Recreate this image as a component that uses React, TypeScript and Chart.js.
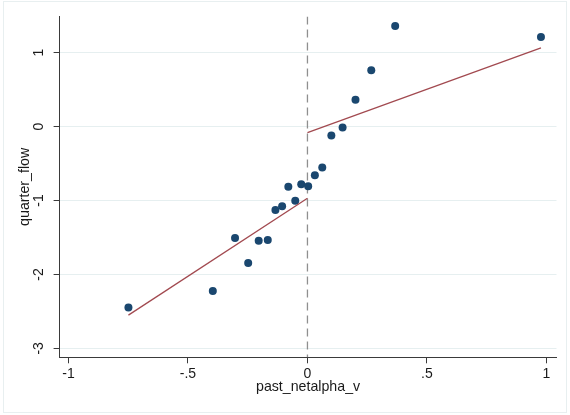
import React, { useEffect, useRef } from "react";
import { Chart, registerables } from "chart.js";

Chart.register(...registerables);

// Scatter data: past_netalpha_v vs quarter_flow
const pastNetalpha = [
  -0.749, -0.396, -0.303, -0.248, -0.204, -0.166, -0.134, -0.106, -0.08, -0.051,
  -0.026, 0.003, 0.031, 0.062, 0.1, 0.147, 0.201, 0.267, 0.367, 0.977,
];
const quarterFlow = [
  -2.447, -2.224, -1.509, -1.846, -1.545, -1.536, -1.127, -1.078, -0.813, -1.005,
  -0.779, -0.809, -0.66, -0.554, -0.121, -0.013, 0.364, 0.76, 1.361, 1.213,
];

// Linear fits on each side of zero
const leftFitX = [-0.749, 0];
const leftFitY = [-2.551, -0.97];
const rightFitX = [0, 0.977];
const rightFitY = [-0.081, 1.065];

// Vertical reference line at x = 0
const refLineX = 0;

// Axis ticks
const xTicks = [-1, -0.5, 0, 0.5, 1];
const xTickLabels = ["-1", "-.5", "0", ".5", "1"];
const yTicks = [-3, -2, -1, 0, 1];
const yTickLabels = ["-3", "-2", "-1", "0", "1"];

const X_MIN = -1.037;
const X_MAX = 1.042;
const Y_MIN = -3.121;
const Y_MAX = 1.49;

const FONT = "'Liberation Sans', Arial, Helvetica, sans-serif";

export default function App() {
  const ref = useRef<HTMLCanvasElement | null>(null);

  useEffect(() => {
    if (!ref.current) return;
    const pts = pastNetalpha.map((x, i) => ({ x, y: quarterFlow[i] }));
    const lf = leftFitX.map((x, i) => ({ x, y: leftFitY[i] }));
    const rf = rightFitX.map((x, i) => ({ x, y: rightFitY[i] }));
    const vline = [
      { x: refLineX, y: Y_MAX },
      { x: refLineX, y: Y_MIN },
    ];

    const bgPlugin = {
      id: "bg",
      beforeDraw(chart: any) {
        const c = chart.ctx;
        c.save();
        c.fillStyle = "#ffffff";
        c.fillRect(0, 0, chart.width, chart.height);
        c.strokeStyle = "#e8eff0";
        c.lineWidth = 1;
        c.strokeRect(3.5, 1.5, 563, 411);
        c.restore();
      },
    };

    const chart = new Chart(ref.current, {
      type: "scatter",
      data: {
        datasets: [
          {
            label: "left fit",
            data: lf,
            showLine: true,
            borderColor: "#a24a50",
            borderWidth: 1.3,
            pointRadius: 0,
            order: 1,
          } as any,
          {
            label: "right fit",
            data: rf,
            showLine: true,
            borderColor: "#a24a50",
            borderWidth: 1.3,
            pointRadius: 0,
            order: 1,
          } as any,
          {
            label: "quarter_flow",
            data: pts,
            backgroundColor: "#1a476f",
            borderColor: "#1a476f",
            borderWidth: 0,
            pointRadius: 4,
            order: 2,
          } as any,
          {
            label: "xline",
            data: vline,
            showLine: true,
            borderColor: "#8f8f8f",
            borderWidth: 1.3,
            borderDash: [8, 5],
            pointRadius: 0,
            order: 3,
          } as any,
        ],
      },
      options: {
        animation: false,
        responsive: false,
        events: [],
        layout: { padding: { left: 0, top: 15, right: 13.5, bottom: 0 } },
        plugins: {
          legend: { display: false },
          tooltip: { enabled: false },
        },
        scales: {
          x: {
            type: "linear",
            min: X_MIN,
            max: X_MAX,
            afterBuildTicks: (s: any) => {
              s.ticks = xTicks.map((v) => ({ value: v }));
            },
            afterFit: (s: any) => {
              s.height = 57.7;
            },
            ticks: {
              callback: (v: any) => {
                const i = xTicks.indexOf(Number(v));
                return i >= 0 ? xTickLabels[i] : "";
              },
              font: { family: FONT, size: 14 },
              color: "#1a1a1a",
              padding: 2,
              maxRotation: 0,
              minRotation: 0,
            },
            grid: {
              drawOnChartArea: false,
              drawTicks: true,
              tickLength: 6,
              tickColor: "#3a3a3a",
              tickWidth: 1,
            },
            border: { display: true, color: "#3a3a3a", width: 1 },
            title: {
              display: true,
              text: "past_netalpha_v",
              font: { family: FONT, size: 14.2 },
              color: "#1a1a1a",
              padding: { top: 0, bottom: 19.5 },
            },
          },
          y: {
            type: "linear",
            min: Y_MIN,
            max: Y_MAX,
            afterBuildTicks: (s: any) => {
              s.ticks = yTicks.map((v) => ({ value: v }));
            },
            afterFit: (s: any) => {
              s.width = 59.6;
            },
            ticks: {
              callback: (v: any) => {
                const i = yTicks.indexOf(Number(v));
                return i >= 0 ? yTickLabels[i] : "";
              },
              font: { family: FONT, size: 14 },
              color: "#1a1a1a",
              padding: 8,
              minRotation: 90,
              maxRotation: 90,
              crossAlign: "center",
            },
            grid: {
              drawOnChartArea: true,
              color: "#e6eff0",
              lineWidth: 1,
              drawTicks: true,
              tickLength: 6,
              tickColor: "#3a3a3a",
              tickWidth: 1,
            },
            border: { display: true, color: "#3a3a3a", width: 1 },
            title: {
              display: true,
              text: "quarter_flow",
              font: { family: FONT, size: 14.2 },
              color: "#1a1a1a",
              padding: { top: 16.5, bottom: 0 },
            },
          },
        },
      },
      plugins: [bgPlugin],
    });
    return () => chart.destroy();
  }, []);

  return (
    <div style={{ position: "fixed", left: 0, top: 0, width: 570, height: 415 }}>
      <canvas ref={ref} width={570} height={415} style={{ display: "block" }} />
    </div>
  );
}
